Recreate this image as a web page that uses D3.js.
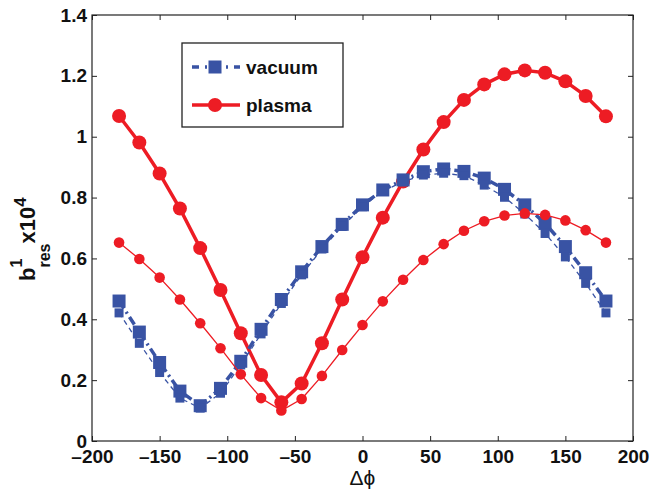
<!DOCTYPE html>
<html>
<head>
<meta charset="utf-8">
<script src="https://cdn.jsdelivr.net/npm/d3@7"></script>
<style>
  html, body { margin: 0; padding: 0; background: #fff; }
  svg { display: block; }
  text { font-family: "Liberation Sans", Arial, Helvetica, sans-serif; }
</style>
</head>
<body>
<svg id="chart" width="664" height="490"></svg>
<script>
// ---- data ----
const phi = [-180,-165,-150,-135,-120,-105,-90,-75,-60,-45,-30,-15,0,15,30,45,60,75,90,105,120,135,150,165,180];
const plasmaThick = [1.068,0.981,0.879,0.764,0.634,0.496,0.354,0.217,0.127,0.189,0.321,0.465,0.604,0.734,0.853,0.958,1.048,1.121,1.172,1.205,1.218,1.210,1.182,1.134,1.067];
const plasmaThin  = [0.652,0.598,0.537,0.465,0.387,0.305,0.219,0.141,0.100,0.138,0.214,0.299,0.381,0.459,0.530,0.595,0.647,0.691,0.722,0.741,0.748,0.743,0.725,0.693,0.652];
const vacuumThick = [0.460,0.358,0.258,0.164,0.116,0.173,0.262,0.367,0.465,0.556,0.639,0.712,0.776,0.825,0.858,0.885,0.894,0.886,0.864,0.827,0.776,0.715,0.639,0.553,0.460];
const vacuumThin  = [0.421,0.321,0.225,0.141,0.108,0.157,0.250,0.352,0.452,0.546,0.631,0.705,0.770,0.821,0.852,0.874,0.880,0.872,0.841,0.801,0.746,0.682,0.605,0.518,0.421];
const xTicks = [-200,-150,-100,-50,0,50,100,150,200];
const yTicks = [0,0.2,0.4,0.6,0.8,1,1.2,1.4];
const legendLabels = ["vacuum","plasma"];

// ---- layout ----
const L = 92, R = 633, T = 15, B = 441;
const RED = "#ed1c24", BLUE = "#3953a4";
const svg = d3.select("#chart");
const x = d3.scaleLinear().domain([-200,200]).range([L,R]);
const y = d3.scaleLinear().domain([0,1.4]).range([B,T]);
const fmt = v => (v < 0 ? "\u2013" + Math.abs(v) : String(v));

// axes
const axB = d3.axisBottom(x).tickValues(xTicks).tickSizeInner(-5).tickSizeOuter(0).tickPadding(9).tickFormat(fmt);
const axT = d3.axisTop(x).tickValues(xTicks).tickSizeInner(-5).tickSizeOuter(0).tickFormat("");
const axL = d3.axisLeft(y).tickValues(yTicks).tickSizeInner(-5).tickSizeOuter(0).tickPadding(5).tickFormat(d => String(d));
const axR = d3.axisRight(y).tickValues(yTicks).tickSizeInner(-5).tickSizeOuter(0).tickFormat("");

function styleAxis(g) {
  g.select(".domain").remove();
  g.selectAll(".tick line").attr("stroke", "#222").attr("stroke-width", 1);
  g.selectAll(".tick text").attr("fill", "#111").style("font-size", "19px").style("font-weight", "bold");
}
svg.append("g").attr("transform", `translate(0,${B})`).call(axB).call(styleAxis);
svg.append("g").attr("transform", `translate(0,${T})`).call(axT).call(styleAxis);
svg.append("g").attr("transform", `translate(${L},0)`).call(axL).call(styleAxis);
svg.append("g").attr("transform", `translate(${R},0)`).call(axR).call(styleAxis);

svg.append("rect").attr("x", L).attr("y", T).attr("width", R - L).attr("height", B - T)
  .attr("fill", "none").attr("stroke", "#222").attr("stroke-width", 1.2);

const plot = svg.append("g");
const line = d3.line().x((d, i) => x(phi[i])).y(d => y(d));

function series(vals, color, width, dash, marker, msize) {
  const g = plot.append("g");
  g.append("path").attr("d", line(vals)).attr("fill", "none")
    .attr("stroke", color).attr("stroke-width", width)
    .attr("stroke-dasharray", dash).attr("stroke-linejoin", "round");
  if (marker === "circle") {
    g.selectAll("circle").data(vals).join("circle")
      .attr("cx", (d, i) => x(phi[i])).attr("cy", d => y(d)).attr("r", msize).attr("fill", color);
  } else {
    g.selectAll("rect").data(vals).join("rect")
      .attr("x", (d, i) => x(phi[i]) - msize / 2).attr("y", d => y(d) - msize / 2)
      .attr("width", msize).attr("height", msize).attr("fill", color);
  }
}
series(plasmaThick, RED, 3.5, null, "circle", 7);
series(vacuumThick, BLUE, 3.5, "9,4,2,4", "square", 13);
series(vacuumThin, BLUE, 1.3, "5,4", "square", 9);
series(plasmaThin, RED, 1.3, null, "circle", 5.3);

// axis labels
svg.append("text").attr("x", (L + R) / 2).attr("y", 485).attr("text-anchor", "middle")
  .style("font-size", "21px").attr("fill", "#111").text("\u0394\u03d5");

const yl = svg.append("text").attr("transform", "translate(35,281) rotate(-90)")
  .attr("text-anchor", "start").style("font-weight", "bold").style("font-size", "22px").attr("fill", "#111");
yl.append("tspan").text("b");
yl.append("tspan").style("font-size", "16px").attr("dy", "-13").text("1");
yl.append("tspan").style("font-size", "16px").attr("dx", "-8.9").attr("dy", "28").text("res");
yl.append("tspan").attr("dy", "-15").text("x10");
yl.append("tspan").style("font-size", "17px").attr("dy", "-9").text("4");

// legend
const lg = svg.append("g");
lg.append("rect").attr("x", 182).attr("y", 43).attr("width", 161).attr("height", 84)
  .attr("fill", "#fff").attr("stroke", "#222").attr("stroke-width", 1.3);
const rows = [
  {label: legendLabels[0], color: BLUE, dash: "7,6,2,6", marker: "square", y: 67},
  {label: legendLabels[1], color: RED, dash: null, marker: "circle", y: 105}
];
rows.forEach(r => {
  lg.append("line").attr("x1", 192).attr("x2", 240).attr("y1", r.y).attr("y2", r.y)
    .attr("stroke", r.color).attr("stroke-width", 3.5).attr("stroke-dasharray", r.dash);
  if (r.marker === "square") {
    lg.append("rect").attr("x", 215 - 6.5).attr("y", r.y - 6.5).attr("width", 13).attr("height", 13).attr("fill", r.color);
  } else {
    lg.append("circle").attr("cx", 215).attr("cy", r.y).attr("r", 7).attr("fill", r.color);
  }
  lg.append("text").attr("x", 246).attr("y", r.y).attr("dy", "0.35em")
    .style("font-size", "19px").style("font-weight", "bold").attr("fill", "#111").text(r.label);
});
</script>
</body>
</html>
